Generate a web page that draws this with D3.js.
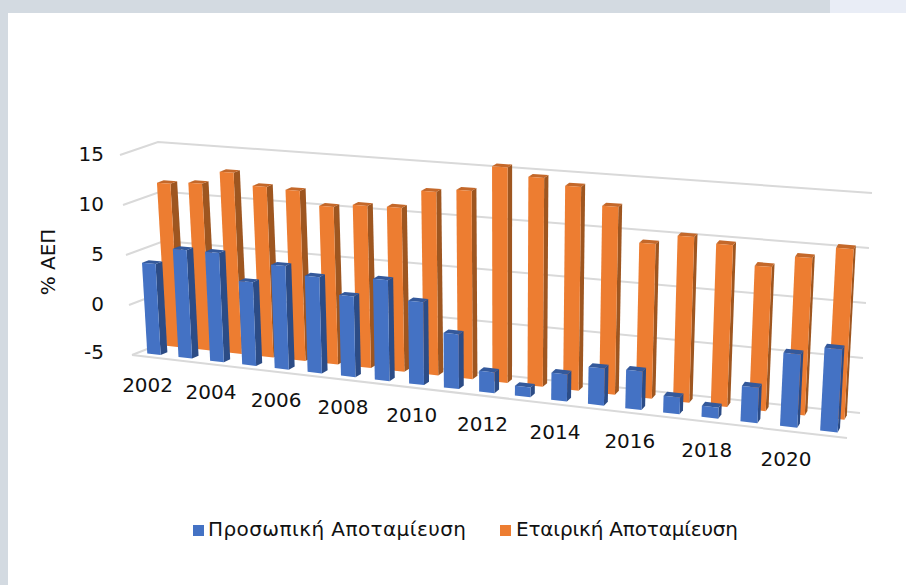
<!DOCTYPE html>
<html lang="el">
<head>
<meta charset="utf-8">
<script src="https://cdn.jsdelivr.net/npm/d3@7/dist/d3.min.js"></script>
<style>
html,body{margin:0;padding:0;background:#fff;}
svg{display:block;}
text{fill:#111;font-family:"DejaVu Sans","Open Sans",sans-serif;}
</style>
</head>
<body>
<svg id="chart" width="906" height="585"></svg>
<script>
// ---- data ----
const years = d3.range(2002, 2022);
const yearLabels = ["2002","2004","2006","2008","2010","2012","2014","2016","2018","2020"];
const personal = [4.07,5.76,5.77,3.2,5.1,4.34,2.8,4.68,2.9,0.18,-3.05,-4.09,-2.48,-1.57,-1.46,-3.46,-4,-1.8,1.56,2.38];
const corporate = [11.39,11.64,12.98,11.84,11.7,10.39,10.76,10.84,12.64,13,15.5,14.75,14.17,12.55,9.38,10.32,9.87,8.16,9.29,10.4];
const valueTicks = [15,10,5,0,-5];
const seriesNames = ["Προσωπική Αποταμίευση","Εταιρική Αποταμίευση"];
const yAxisTitle = "% ΑΕΠ";

// ---- projection of the 3-D box ----
const box = {
  fb:{l:[132,355],r:[847,438]}, ft:{l:[120,155],r:[860,212]},
  bb:{l:[170,340],r:[860,413]}, bt:{l:[158,142],r:[872,193]}
};
const lerp=(a,b,t)=>a+(b-a)*t;
const lerp2=(a,b,t)=>[lerp(a[0],b[0],t),lerp(a[1],b[1],t)];
const persp = 1.15;
const warp = s => s/(s+(1-s)*persp);
const xBand = d3.scaleBand().domain(years).range([0,1]).paddingInner(0.57).paddingOuter(0.285);
const xCenter = y => xBand(y)+xBand.bandwidth()/2;
const vScale = d3.scaleLinear().domain([-5,15]).range([0,1]);
function project(s,value,depth){
  const u=warp(s), v=vScale(value);
  const front=lerp2(lerp2(box.fb.l,box.ft.l,v),lerp2(box.fb.r,box.ft.r,v),u);
  const back =lerp2(lerp2(box.bb.l,box.bt.l,v),lerp2(box.bb.r,box.bt.r,v),u);
  return lerp2(front,back,depth);
}
const poly = d3.line();
const svg = d3.select("#chart");

// ---- page frame ----
svg.append("rect").attr("width",830).attr("height",13).attr("fill","#D3DAE1");
svg.append("rect").attr("x",830).attr("width",76).attr("height",13).attr("fill","#E9EDF6");
svg.append("rect").attr("y",13).attr("width",8).attr("height",572).attr("fill","#D3DAE1");

// ---- gridlines ----
const grid = svg.append("g").attr("fill","none").attr("stroke","#D9D9D9").attr("stroke-width",2);
valueTicks.forEach(t=>{
  grid.append("path").attr("d",poly([project(0,t,0),project(0,t,1),project(1,t,1)]));
});
grid.append("path").attr("d",poly([project(0,-5,0),project(1,-5,0)]));

// ---- bars ----
const barDepth = 0.18;
function drawSeries(values,d0,cols){
  const g=svg.append("g");
  values.forEach((val,i)=>{
    const s0=xBand(years[i]), s1=s0+xBand.bandwidth(), d1=d0+barDepth;
    const bar=g.append("g");
    bar.append("path").attr("fill",cols.side).attr("d",poly([project(s1,-5,d0),project(s1,-5,d1),project(s1,val,d1),project(s1,val,d0)])+"Z");
    bar.append("path").attr("fill",cols.top).attr("d",poly([project(s0,val,d0),project(s1,val,d0),project(s1,val,d1),project(s0,val,d1)])+"Z");
    bar.append("path").attr("fill",cols.front).attr("d",poly([project(s0,-5,d0),project(s1,-5,d0),project(s1,val,d0),project(s0,val,d0)])+"Z");
  });
}
drawSeries(corporate,0.68,{front:"#ED7D31",side:"#9E5620",top:"#C4682A"});
drawSeries(personal,0.17,{front:"#4472C4",side:"#2C4C86",top:"#34599B"});

// ---- axis labels ----
const tickFont=20;
svg.append("g").selectAll("text").data(valueTicks).join("text")
  .attr("x",104).attr("text-anchor","end").attr("font-size",tickFont)
  .attr("y",t=>project(0,t,0)[1]).attr("dy",t=>t===-5?"0.2em":"0.3em").text(t=>t);
svg.append("g").selectAll("text").data(yearLabels).join("text")
  .attr("text-anchor","middle").attr("font-size",tickFont)
  .attr("x",l=>project(xCenter(+l),-5,0)[0])
  .attr("y",l=>project(xCenter(+l),-5,0)[1]+35)
  .text(l=>l);
svg.append("text").attr("transform","translate(55,262) rotate(-90)")
  .attr("text-anchor","middle").attr("font-size",20).text(yAxisTitle);

// ---- legend ----
const legendX=[{sq:193,tx:208,len:258,c:"#4472C4"},{sq:500,tx:516,len:222,c:"#ED7D31"}];
seriesNames.forEach((n,i)=>{
  svg.append("rect").attr("x",legendX[i].sq).attr("y",525).attr("width",11).attr("height",11).attr("fill",legendX[i].c);
  svg.append("text").attr("x",legendX[i].tx).attr("y",536).attr("font-size",20)
    .attr("textLength",legendX[i].len).attr("lengthAdjust","spacing").text(n);
});
</script>
</body>
</html>
